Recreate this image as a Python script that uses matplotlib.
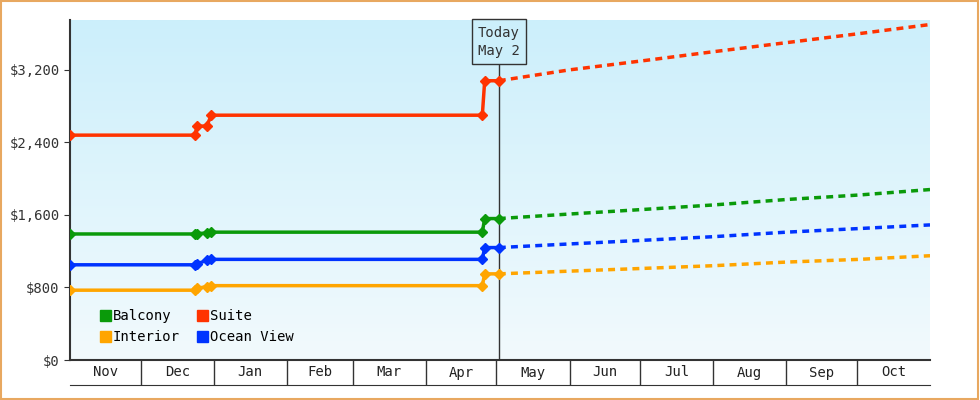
import matplotlib
matplotlib.use("Agg")
import matplotlib.pyplot as plt
import numpy as np
from matplotlib.patches import Rectangle, Patch
from matplotlib.colors import LinearSegmentedColormap

months = ["Nov","Dec","Jan","Feb","Mar","Apr","May","Jun","Jul","Aug","Sep","Oct"]
month_days = [30,31,31,28,31,30,31,30,31,31,30,31]
today_day = 182
today_label = "Today\nMay 2"

# days since Nov 1
hist_days = [0, 53, 54, 58, 60, 175, 176, 182]
suite_hist    = [2480, 2480, 2580, 2580, 2700, 2700, 3080, 3080]
balcony_hist  = [1390, 1390, 1395, 1400, 1410, 1410, 1560, 1560]
ocean_hist    = [1050, 1050, 1060, 1100, 1110, 1110, 1240, 1240]
interior_hist = [770, 770, 790, 810, 820, 820, 950, 950]

proj_days = [182, 212, 243, 273, 304, 335, 365]
suite_proj    = [3080, 3200, 3300, 3400, 3500, 3600, 3700]
balcony_proj  = [1560, 1610, 1660, 1710, 1770, 1820, 1880]
ocean_proj    = [1240, 1280, 1320, 1360, 1410, 1450, 1490]
interior_proj = [950, 980, 1010, 1040, 1080, 1110, 1150]

series = [("Balcony", "#0a9a0a", balcony_hist, balcony_proj),
          ("Suite", "#ff3300", suite_hist, suite_proj),
          ("Interior", "#ffa500", interior_hist, interior_proj),
          ("Ocean View", "#0033ff", ocean_hist, ocean_proj)]

plt.rcParams['font.family'] = ['DejaVu Sans Mono']
fig = plt.figure(figsize=(9.8, 4), dpi=100)
fig.patch.set_facecolor("white")
fig.patches.append(Rectangle((0.001, 0.002), 0.997, 0.995, transform=fig.transFigure,
                             fill=False, edgecolor="#e8a860", lw=1.5))

ax = fig.add_axes([70/980, 40/400, 860/980, 340/400])
ymax = 3750
ax.set_xlim(0, 365)
ax.set_ylim(0, ymax)
grad = np.linspace(0, 1, 256).reshape(-1, 1)
cmap = LinearSegmentedColormap.from_list("g", ["#f2fafd", "#cceffb"])
ax.imshow(grad, aspect="auto", cmap=cmap, extent=[0, 365, 0, ymax], origin="lower", zorder=0)

for name, c, h, p in series:
    ax.plot(hist_days, h, color=c, lw=2.5, marker="D", ms=5, zorder=3)
    ax.plot(proj_days, p, color=c, lw=2.5, ls=(0, (2, 1.5)), zorder=3)

ax.axvline(today_day, color="#333333", lw=1, zorder=2)
ax.text(today_day, 3330, today_label, ha="center", va="bottom", fontsize=10,
        color="#333333", linespacing=1.4,
        bbox=dict(boxstyle="square,pad=0.45", fc="#cceffb", ec="#333333", lw=1), zorder=5)

ax.set_yticks([0, 800, 1600, 2400, 3200])
ax.set_yticklabels(["$0", "$800", "$1,600", "$2,400", "$3,200"], fontsize=10, color="#333333")
ax.set_xticks([])
for s in ["top", "right"]:
    ax.spines[s].set_visible(False)
ax.spines["left"].set_color("#333333"); ax.spines["left"].set_linewidth(1.5)
ax.spines["bottom"].set_color("#333333"); ax.spines["bottom"].set_linewidth(1.5)
ax.tick_params(axis="y", length=4, color="#333333")

order = [0, 2, 1, 3]
handles = [Patch(color=series[i][1], label=series[i][0]) for i in order]
ax.legend(handles=handles, ncol=2, loc="lower left", bbox_to_anchor=(0.02, 0.01), frameon=False,
          fontsize=10, handlelength=0.8, handleheight=0.8, handletextpad=0.15, columnspacing=1.2,
          labelspacing=0.5)

mx = fig.add_axes([70/980, 15/400, 860/980, 25/400])
mx.set_xlim(0, 365); mx.set_ylim(0, 1)
mx.set_xticks([]); mx.set_yticks([])
for s in ["top", "right", "left"]:
    mx.spines[s].set_visible(False)
mx.spines["bottom"].set_color("#333333")
edges = np.concatenate([[0], np.cumsum(month_days)])
for i, m in enumerate(months):
    if i > 0:
        mx.axvline(edges[i], color="#333333", lw=1)
    mx.text((edges[i] + edges[i+1]) / 2, 0.5, m, ha="center", va="center", fontsize=10, color="#222222")
mx.patch.set_alpha(0)

fig.savefig("out.png", dpi=100)
